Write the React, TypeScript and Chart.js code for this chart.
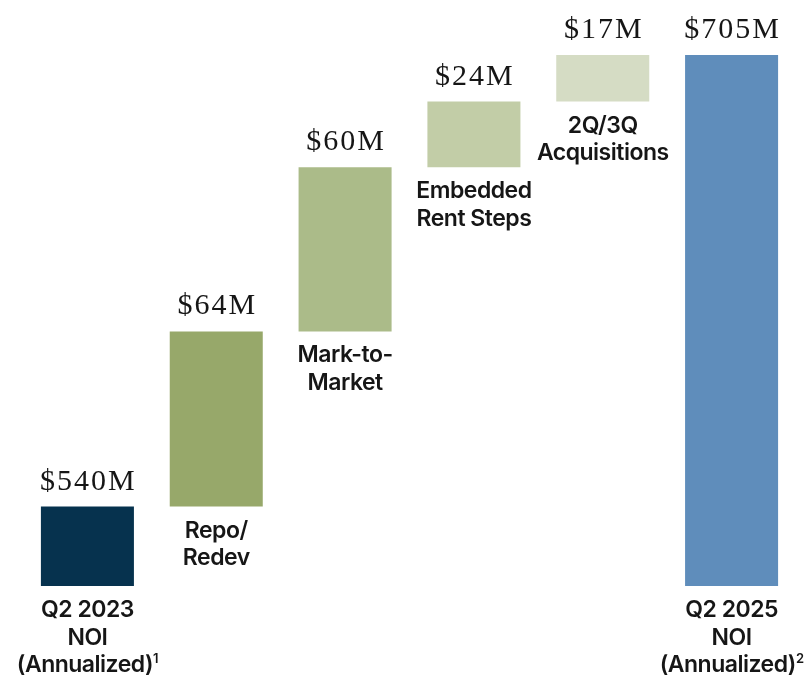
import React, { useEffect, useRef } from "react";
import { Chart, registerables } from "chart.js";

Chart.register(...registerables);

const CATEGORIES: string[][] = [
  ["Q2 2023", "NOI", "(Annualized)"],
  ["Repo/", "Redev"],
  ["Mark-to-", "Market"],
  ["Embedded", "Rent Steps"],
  ["2Q/3Q", "Acquisitions"],
  ["Q2 2025", "NOI", "(Annualized)"],
];
const FOOTNOTES = ["1", "", "", "", "", "2"];
const VALUES = [540, 64, 60, 24, 17, 705];
const IS_TOTAL = [true, false, false, false, false, true];
const VALUE_LABELS = ["$540M", "$64M", "$60M", "$24M", "$17M", "$705M"];
const Y_MIN = 511;
const Y_MAX = 705;
const COLORS = ["#06324E", "#97A86A", "#ABBB89", "#C2CDA7", "#D5DCC4", "#5F8DBB"];

function buildRanges(): [number, number][] {
  let running = 0;
  return VALUES.map((v, i) => {
    if (IS_TOTAL[i]) {
      running = v;
      return [Y_MIN, v] as [number, number];
    }
    const r: [number, number] = [running, running + v];
    running += v;
    return r;
  });
}

const CAT_FONT = '600 23px "Inter"';
const SUP_FONT = '600 13px "Inter"';

const labelPlugin = {
  id: "waterfallLabels",
  afterDatasetsDraw(chart: any) {
    const ctx = chart.ctx as CanvasRenderingContext2D;
    const meta = chart.getDatasetMeta(0);
    ctx.save();
    meta.data.forEach((el: any, i: number) => {
      const top = Math.min(el.y, el.base);
      const bottom = Math.max(el.y, el.base);
      const cx = el.x;
      // value label
      ctx.fillStyle = "#161616";
      ctx.font = '30px "Liberation Serif"';
      (ctx as any).letterSpacing = "2px";
      ctx.textAlign = "center";
      ctx.textBaseline = "alphabetic";
      ctx.fillText(VALUE_LABELS[i], cx + 1, top - 17);
      (ctx as any).letterSpacing = "-0.5px";
      // category label
      const lines = CATEGORIES[i];
      lines.forEach((line, j) => {
        const y = bottom + 31 + j * 27.5;
        ctx.font = CAT_FONT;
        const isLast = j === lines.length - 1;
        const sup = isLast ? FOOTNOTES[i] : "";
        if (sup) {
          const w = ctx.measureText(line).width;
          ctx.font = SUP_FONT;
          const sw = ctx.measureText(sup).width;
          const start = cx - (w + sw) / 2;
          ctx.textAlign = "left";
          ctx.font = CAT_FONT;
          ctx.fillText(line, start, y);
          ctx.font = SUP_FONT;
          ctx.fillText(sup, start + w, y - 9);
          ctx.textAlign = "center";
        } else {
          ctx.textAlign = "center";
          ctx.fillText(line, cx, y);
        }
      });
    });
    ctx.restore();
  },
};

export default function App() {
  const ref = useRef<HTMLCanvasElement | null>(null);
  useEffect(() => {
    document.body.style.margin = "0";
    const canvas = ref.current;
    if (!canvas) return;
    const chart = new Chart(canvas, {
      type: "bar",
      data: {
        labels: CATEGORIES.map((c) => c.join(" ")),
        datasets: [
          {
            data: buildRanges() as any,
            backgroundColor: COLORS,
            borderWidth: 0,
            categoryPercentage: 1,
            barPercentage: 0.722,
          },
        ],
      },
      options: {
        responsive: false,
        animation: false,
        devicePixelRatio: 1,
        layout: { padding: { left: 23, right: 13, top: 55, bottom: 92 } },
        plugins: { legend: { display: false }, tooltip: { enabled: false } },
        scales: {
          x: { display: false, offset: true },
          y: { display: false, min: Y_MIN, max: Y_MAX },
        },
      },
      plugins: [labelPlugin],
    });
    return () => chart.destroy();
  }, []);
  return (
    <div style={{ width: 809, height: 678, overflow: "hidden" }}>
      <canvas ref={ref} width={809} height={678} style={{ display: "block" }} />
    </div>
  );
}
